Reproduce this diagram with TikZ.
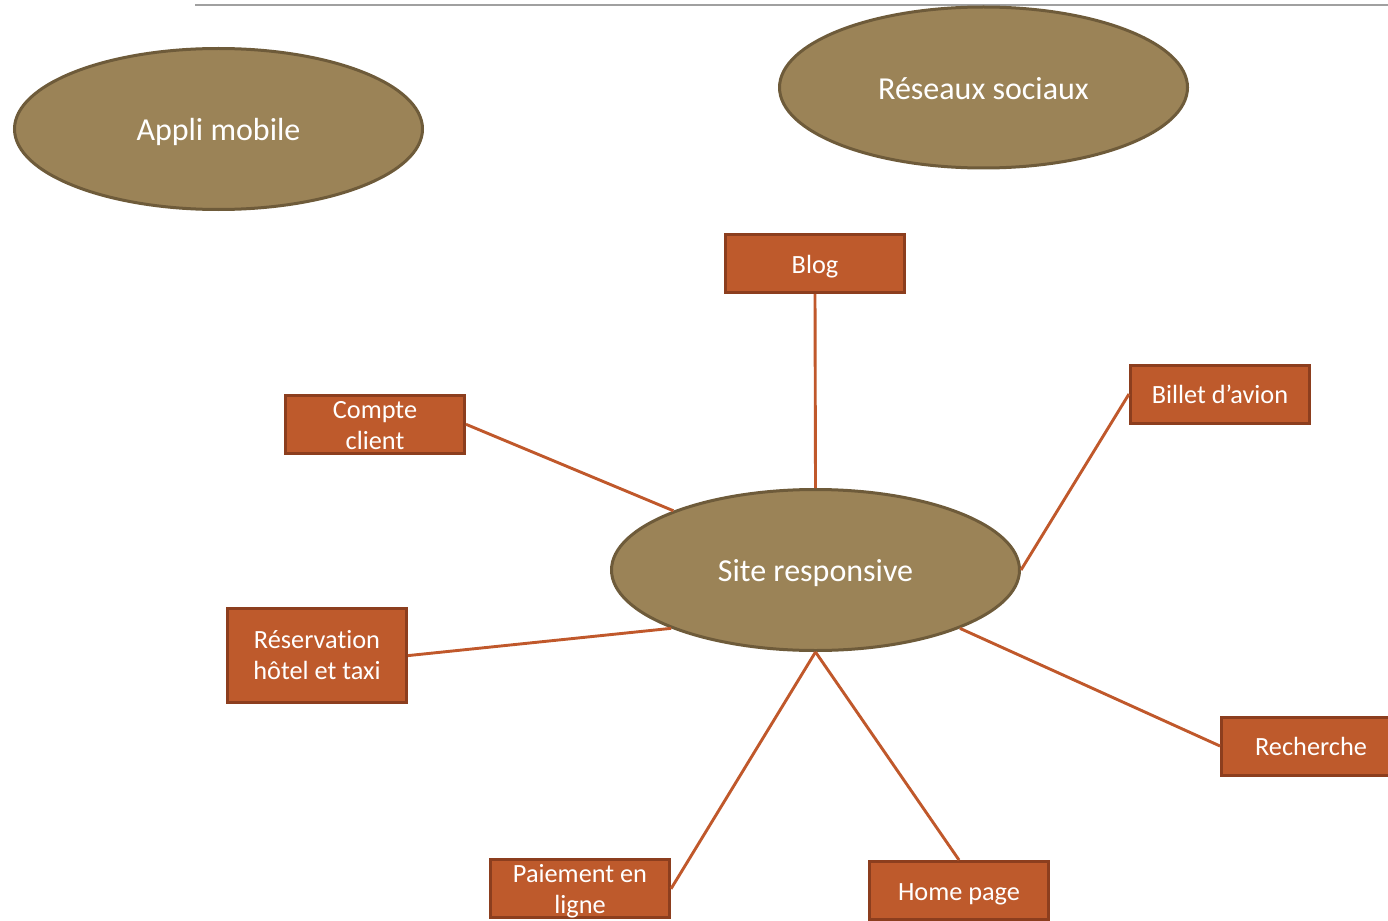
\documentclass[tikz,border=0pt]{standalone}
\usepackage{fontspec}
\setmainfont{Carlito}[Ligatures=NoCommon]
\usetikzlibrary{shapes.geometric}
\definecolor{ellfill}{HTML}{9B8357}
\definecolor{elldraw}{HTML}{6E5B3A}
\definecolor{boxfill}{HTML}{BE5A2C}
\definecolor{boxdraw}{HTML}{8C3E1E}
\definecolor{linkcol}{HTML}{C0582B}
\definecolor{rulecol}{HTML}{A0A0A0}
\tikzset{
  bubble/.style={ellipse, fill=ellfill, draw=elldraw, line width=3pt, minimum width=408pt, minimum height=161pt, inner sep=0pt, text=white, text height=23.6pt, text depth=0pt, font=\fontsize{32}{38}\selectfont},
  topic/.style={rectangle, fill=boxfill, draw=boxdraw, line width=3pt, minimum width=179pt, minimum height=58pt, inner sep=0pt, text=white, align=center, text height=19pt, text depth=0pt, font=\fontsize{26.3}{31}\selectfont},
  twoline/.style={text height=50pt, text depth=0pt},
  link/.style={draw=linkcol, line width=2.9pt},
}
\begin{document}
\begin{tikzpicture}[x=1pt,y=-1pt]
\useasboundingbox (0,0) rectangle (1388,920);
\clip (0,0) rectangle (1388,920);
\fill[white] (0,0) rectangle (1388,920);
\coordinate (rl) at (195,5);
\coordinate (rr) at (1388,5);
\draw[rulecol, line width=1.5pt] (rl) -- (rr);

\node[bubble] (appli) at (218.5,129) {Appli mobile};
\node[bubble] (reseaux) at (983.5,87.5) {Réseaux sociaux};
\node[bubble] (site) at (815.5,570) {Site responsive};

\node[topic] (blog) at (815,263.5) {Blog};
\node[topic] (billet) at (1220,394) {Billet d’avion};
\node[topic, twoline] (compte) at (375,424.3) {Compte\\client};
\node[topic, minimum height=94pt, text height=48pt, text depth=0pt] (resa) at (317,655.6) {Réservation\\hôtel et taxi};
\node[topic] (recherche) at (1311,746) {Recherche};
\node[topic, text height=49pt, text depth=0pt] (paiement) at (580,888.8) {Paiement en\\ligne};
\node[topic] (home) at (959,890.5) {Home page};

\draw[link] (blog.south) -- (site.north);
\draw[link] (billet.west) -- (site.east);
\draw[link] (compte.east) -- (site);
\draw[link] (resa.east) -- (site.202);
\draw[link] (recherche.west) -- (site.338);
\draw[link] (paiement.east) -- (site.south);
\draw[link] (home.north) -- (site.south);
\end{tikzpicture}
\end{document}
